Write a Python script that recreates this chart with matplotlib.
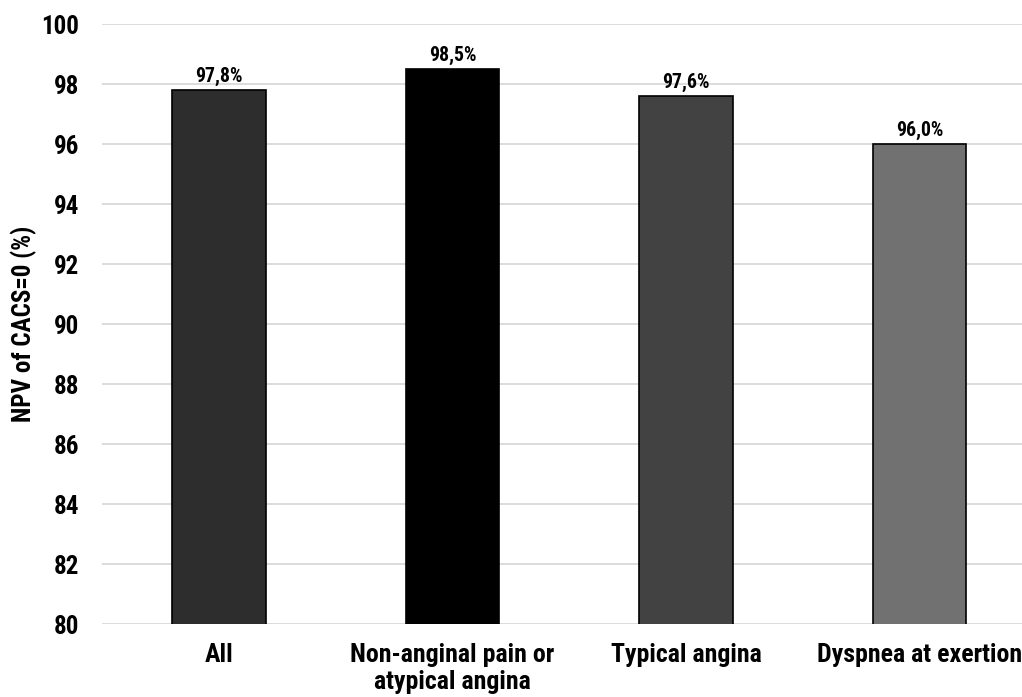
import matplotlib
matplotlib.use("Agg")
import matplotlib.pyplot as plt
from matplotlib import font_manager

categories = ["All", "Non-anginal pain or\natypical angina", "Typical angina", "Dyspnea at exertion"]
values = [97.8, 98.5, 97.6, 96.0]
value_labels = ["97,8%", "98,5%", "97,6%", "96,0%"]
bar_colors = ["#2d2d2d", "#000000", "#424242", "#717171"]
yticks = [80, 82, 84, 86, 88, 90, 92, 94, 96, 98, 100]

bold_names = {f.name for f in font_manager.fontManager.ttflist if f.weight in (700, "bold")}
candidates = ["Liberation Sans Narrow", "Arial Narrow", "Roboto Condensed", "Open Sans Condensed",
              "Asap Condensed", "Barlow Semi Condensed", "Archivo Narrow", "Liberation Sans"]
chosen = next((c for c in candidates if c in bold_names), "Liberation Sans")
plt.rcParams['font.family'] = [chosen, "DejaVu Sans"]

fig = plt.figure(figsize=(10.22, 6.97), dpi=100)
ax = fig.add_axes([102/1022, 1-624/697, 920/1022, 600/697])

x = list(range(len(categories)))
ax.bar(x, values, width=0.4, bottom=0, color=bar_colors, edgecolor="black", linewidth=1.2, zorder=3)
for xi, v, lab in zip(x, values, value_labels):
    ax.text(xi, v + 0.12, lab, ha="center", va="bottom", fontsize=14.2, fontweight="bold", zorder=4)

ax.set_ylim(80, 100)
ax.set_xlim(-0.501, 3.439)
ax.set_yticks(yticks)
ax.set_yticklabels([str(t) for t in yticks], fontsize=18, fontweight="bold")
ax.set_xticks(x)
ax.set_xticklabels(categories, fontsize=18.6, fontweight="bold", linespacing=1.15)
ax.tick_params(axis="both", length=0)
ax.tick_params(axis="y", pad=16.5)
ax.tick_params(axis="x", pad=14)
ax.yaxis.grid(True, color="#d9d9d9", linewidth=1.3, zorder=0)
for s in ax.spines.values():
    s.set_visible(False)
ax.set_ylabel("NPV of CACS=0 (%)", fontsize=18, fontweight="bold")
ax.yaxis.set_label_coords(-0.071, 0.5)

fig.savefig("out.png", dpi=100)
